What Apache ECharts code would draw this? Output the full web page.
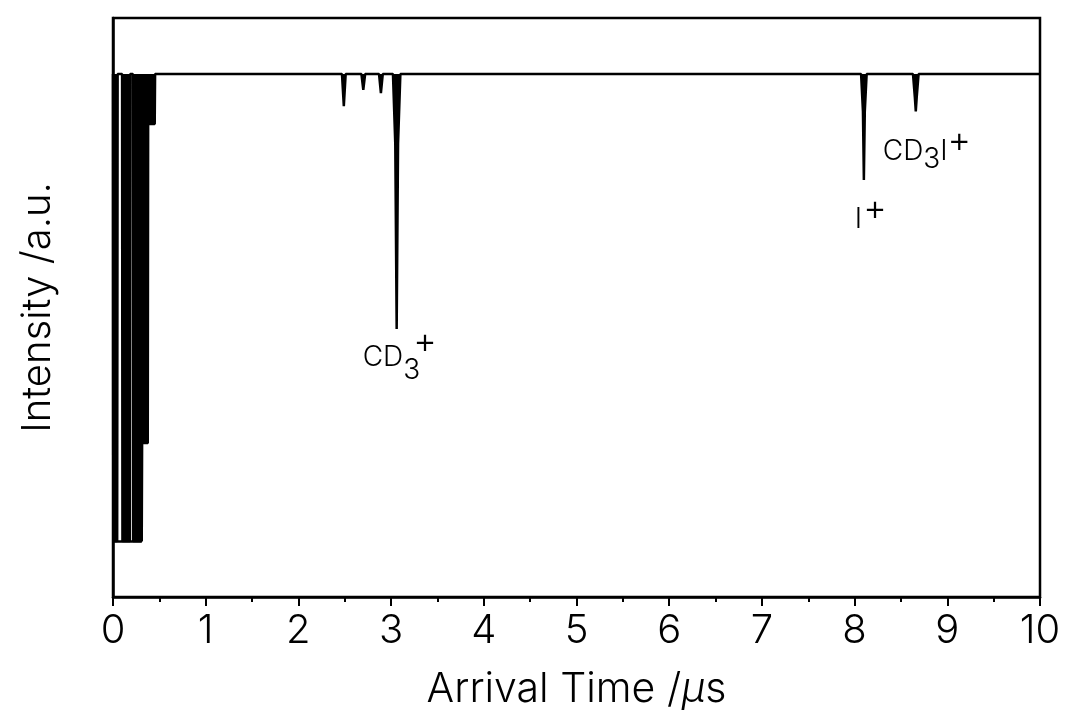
<!DOCTYPE html>
<html>
<head>
<meta charset="utf-8">
<script src="https://cdn.jsdelivr.net/npm/echarts@6/dist/echarts.min.js"></script>
<style>
  html, body { margin: 0; padding: 0; background: #fff; }
  #chart { width: 1069px; height: 720px; }
</style>
</head>
<body>
<div id="chart"></div>
<script>
// Time-of-flight trace: arrival time (µs) against detector signal (a.u.),
// peaks are drawn downward from the baseline.
const traceTime = [
  0, 0.003, 0.045, 0.05, 0.098, 0.102, 0.182, 0.186, 0.214, 0.218,
  0.31, 0.314, 0.375, 0.379, 0.45, 0.454,
  2.47, 2.49, 2.51,
  2.68, 2.70, 2.72,
  2.87, 2.89, 2.91,
  3.02, 3.045, 3.06, 3.075, 3.10,
  8.07, 8.09, 8.10, 8.11, 8.13,
  8.63, 8.65, 8.66, 8.67, 8.69,
  10
];
const traceSignal = [
  0, 100, 100, 0, 0, 100, 100, 0, 0, 100,
  100, 79, 79, 10.7, 10.7, 0,
  0, 6.9, 0,
  0, 3.4, 0,
  0, 4.1, 0,
  0, 15, 54.6, 15, 0,
  0, 8, 22.7, 8, 0,
  0, 5, 8, 5, 0,
  0
];
// detector saturation level reached by the early (prompt) signal
const saturationSignal = 100;
const saturationEnd = 0.31;

const axisMin = 0, axisMax = 10, axisStep = 1;

// ion assignments: anchor at the peak tip, text split into base/sub/superscript parts
const labelTime = [3.06, 8.10, 8.66];
const labelSignal = [54.6, 22.7, 8];
const labelParts = [['CD', '3', '+'], ['I', '+'], ['CD', '3', 'I', '+']];
const labelRoles = [['base', 'sub', 'sup'], ['base', 'sup'], ['base', 'sub', 'base', 'sup']];

const FONT = "Inter, 'DejaVu Sans', sans-serif";
const WEIGHT = 300;
const LABEL_FONT = "Inter, 'DejaVu Sans', sans-serif";
const roleSize = { base: 28, sub: 28, sup: 36 };

const points = traceTime.map((t, i) => [t, traceSignal[i]]);

const chart = echarts.init(document.getElementById('chart'), null, { renderer: 'canvas' });

chart.setOption({
  animation: false,
  backgroundColor: '#fff',
  grid: {
    left: 113, right: 29, top: 18, bottom: 123,
    show: true, borderColor: '#000', borderWidth: 2.5, backgroundColor: 'transparent'
  },
  xAxis: {
    type: 'value',
    min: axisMin, max: axisMax, interval: axisStep,
    axisLine: { show: true, onZero: false, lineStyle: { color: '#000', width: 2.5 } },
    axisTick: { show: true, inside: false, length: 9, lineStyle: { color: '#000', width: 2 } },
    minorTick: { show: true, splitNumber: 2, length: 5, lineStyle: { color: '#000', width: 2 } },
    splitLine: { show: false },
    axisLabel: { color: '#000', fontSize: 40, fontFamily: FONT, fontWeight: WEIGHT, margin: 14 },
    name: 'Arrival Time /{mu|µ}s',
    nameLocation: 'middle',
    nameGap: 72,
    nameTextStyle: {
      color: '#000', fontSize: 41, fontFamily: FONT, fontWeight: WEIGHT,
      rich: { mu: { color: '#000', fontSize: 41, fontFamily: FONT, fontWeight: WEIGHT, fontStyle: 'italic' } }
    }
  },
  yAxis: {
    type: 'value',
    inverse: true,
    min: -12, max: 112,
    axisLine: { show: true, onZero: false, lineStyle: { color: '#000', width: 2.5 } },
    axisTick: { show: false },
    axisLabel: { show: false },
    splitLine: { show: false },
    name: 'Intensity /a.u.',
    nameLocation: 'middle',
    nameRotate: 90,
    nameGap: 55,
    nameTextStyle: { color: '#000', fontSize: 40, fontFamily: FONT, fontWeight: WEIGHT }
  },
  series: [{
    type: 'line',
    data: points,
    showSymbol: false,
    symbol: 'none',
    lineStyle: { color: '#000', width: 2.5 },
    areaStyle: { color: '#000', opacity: 1 },
    markLine: {
      silent: true,
      symbol: 'none',
      label: { show: false },
      lineStyle: { color: '#000', width: 2.5, type: 'solid' },
      data: [[{ coord: [axisMin, saturationSignal] }, { coord: [saturationEnd, saturationSignal] }]]
    }
  }]
});

// ion labels placed next to their peak tips
const ctx = document.createElement('canvas').getContext('2d');
const anchorOffset = [[-34, 29], [-9, 40], [-33, 40]];
const subShift = [13, 0, 8];
const supShift = [-16, -11, -10];
const supKern = [-7, 1, 0];
const graphics = [];
labelTime.forEach((t, i) => {
  const tip = chart.convertToPixel({ gridIndex: 0 }, [t, labelSignal[i]]);
  let x = tip[0] + anchorOffset[i][0];
  const y0 = tip[1] + anchorOffset[i][1];
  labelParts[i].forEach((txt, j) => {
    const role = labelRoles[i][j];
    const size = roleSize[role];
    if (role === 'sup') x += supKern[i];
    const dy = role === 'sub' ? subShift[i] : role === 'sup' ? supShift[i] : 0;
    graphics.push({
      type: 'text',
      x: x, y: y0 + dy,
      style: {
        text: txt, fontSize: size, fontFamily: LABEL_FONT, fontWeight: WEIGHT, fill: '#000',
        align: 'left', verticalAlign: 'middle'
      }
    });
    ctx.font = WEIGHT + ' ' + size + 'px ' + LABEL_FONT;
    x += ctx.measureText(txt).width;
  });
});
chart.setOption({ graphic: graphics });
</script>
</body>
</html>
